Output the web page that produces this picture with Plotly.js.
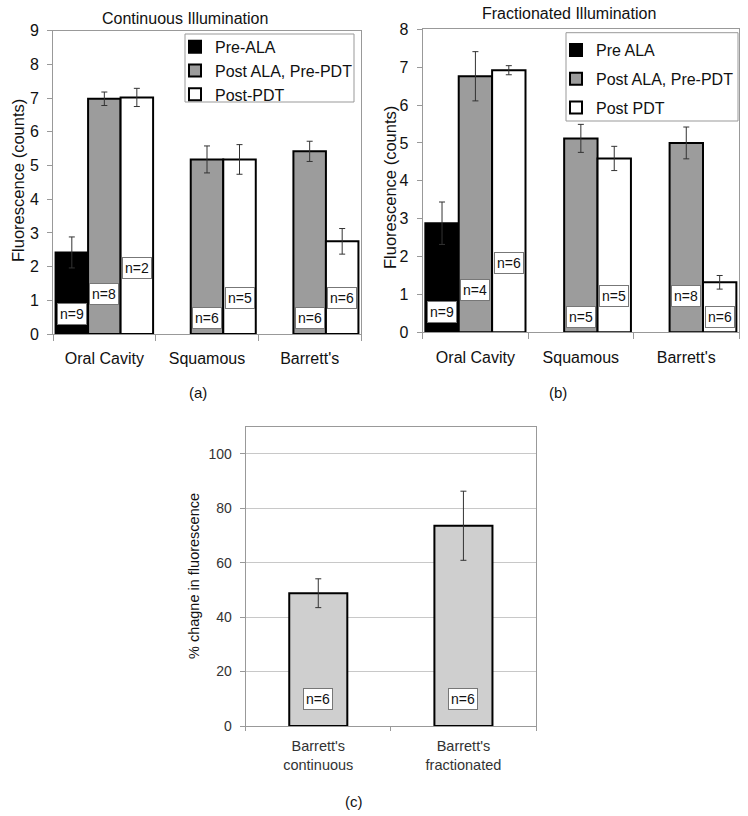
<!DOCTYPE html>
<html>
<head>
<meta charset="utf-8">
<script src="https://cdn.plot.ly/plotly-3.0.1.min.js"></script>
<style>html,body{margin:0;padding:0;background:#fff;}#chart{width:748px;height:816px;}</style>
</head>
<body>
<div id="chart"></div>
<script>
// ---------- DATA ----------
const categories = ["Oral Cavity", "Squamous", "Barrett's"];

// Panel (a) Continuous Illumination
const seriesNamesA = ["Pre-ALA", "Post ALA, Pre-PDT", "Post-PDT"];
const preAlaA      = [2.42, null, null];
const preAlaErrA   = [0.46, null, null];
const postAlaA     = [6.98, 5.18, 5.42];
const postAlaErrA  = [0.20, 0.40, 0.30];
const postPdtA     = [7.02, 5.18, 2.75];
const postPdtErrA  = [0.27, 0.44, 0.38];
const nPreAlaA     = [9, null, null];
const nPostAlaA    = [8, 6, 6];
const nPostPdtA    = [2, 5, 6];

// Panel (b) Fractionated Illumination
const seriesNamesB = ["Pre ALA", "Post ALA, Pre-PDT", "Post PDT"];
const preAlaB      = [2.88, null, null];
const preAlaErrB   = [0.56, null, null];
const postAlaB     = [6.76, 5.12, 5.00];
const postAlaErrB  = [0.65, 0.37, 0.42];
const postPdtB     = [6.92, 4.59, 1.32];
const postPdtErrB  = [0.12, 0.32, 0.18];
const nPreAlaB     = [9, null, null];
const nPostAlaB    = [4, 5, 8];
const nPostPdtB    = [6, 5, 6];

// Panel (c) % change
const changeCategories = ["Barrett's<br>continuous", "Barrett's<br>fractionated"];
const pctChange    = [48.8, 73.6];
const pctChangeErr = [5.3, 12.7];
const nChange      = [6, 6];

// ---------- LAYOUT CONSTANTS (positions/styles) ----------
const FONT = "Liberation Sans, Arial, Helvetica, sans-serif";
const BARGAP = 0.05;
const fills = ["#000000", "#9c9c9c", "#ffffff"];
const labelYA = [[0.60, null, null], [1.20, 0.47, 0.47], [1.97, 1.07, 1.07]];
const labelYB = [[0.54, null, null], [1.12, 0.41, 0.96], [1.84, 0.96, 0.41]];
const labelYC = 10;
const W = 748, H = 816;
const px = v => v / W, py = v => 1 - v / H;

function barTrace(name, y, err, k, xa, ya, legend) {
  return {
    type: "bar", name: name, x: categories, y: y,
    xaxis: xa, yaxis: ya, legend: legend, legendgroup: legend + "_g" + k,
    marker: {color: fills[k], line: {color: "#000", width: 2}},
    error_y: {type: "data", array: err, visible: true, color: "#333", thickness: 1, width: 3},
    hoverinfo: "none"
  };
}

const traces = [
  barTrace(seriesNamesA[0], preAlaA, preAlaErrA, 0, "x", "y", "legend"),
  barTrace(seriesNamesA[1], postAlaA, postAlaErrA, 1, "x", "y", "legend"),
  barTrace(seriesNamesA[2], postPdtA, postPdtErrA, 2, "x", "y", "legend"),
  barTrace(seriesNamesB[0], preAlaB, preAlaErrB, 0, "x2", "y2", "legend2"),
  barTrace(seriesNamesB[1], postAlaB, postAlaErrB, 1, "x2", "y2", "legend2"),
  barTrace(seriesNamesB[2], postPdtB, postPdtErrB, 2, "x2", "y2", "legend2"),
  {
    type: "bar", x: changeCategories, y: pctChange, xaxis: "x3", yaxis: "y3",
    width: 0.4, showlegend: false,
    marker: {color: "#cfcfcf", line: {color: "#000", width: 2}},
    error_y: {type: "data", array: pctChangeErr, visible: true, color: "#333", thickness: 1, width: 3},
    hoverinfo: "none"
  }
];

// n= labels
const annotations = [];
const w = (1 - BARGAP) / 3;
function addN(nArrs, labelY, xref, yref) {
  nArrs.forEach((arr, k) => {
    arr.forEach((n, i) => {
      if (n === null) return;
      annotations.push({
        x: i + (k - 1) * w, y: labelY[k][i], xref: xref, yref: yref,
        text: "n=" + n, showarrow: false,
        font: {family: FONT, size: 14, color: "#111"},
        bgcolor: "#fff", bordercolor: "#777", borderwidth: 1, borderpad: 2
      });
    });
  });
}
addN([nPreAlaA, nPostAlaA, nPostPdtA], labelYA, "x", "y");
addN([nPreAlaB, nPostAlaB, nPostPdtB], labelYB, "x2", "y2");
nChange.forEach((n, i) => {
  annotations.push({
    x: i, y: labelYC, xref: "x3", yref: "y3", text: "n=" + n, showarrow: false,
    font: {family: FONT, size: 14, color: "#111"},
    bgcolor: "#fff", bordercolor: "#777", borderwidth: 1, borderpad: 2
  });
});

function paperText(text, x, y, size, angle) {
  annotations.push({
    text: text, xref: "paper", yref: "paper", x: px(x), y: py(y),
    xanchor: "center", yanchor: "middle", showarrow: false, textangle: angle || 0,
    font: {family: FONT, size: size, color: "#111"}
  });
}
paperText("Continuous Illumination", 185, 18.5, 16);
paperText("Fractionated Illumination", 568.5, 13.5, 16);
paperText("Fluorescence (counts)", 17.5, 180.5, 16.5, -90);
paperText("Fluorescence (counts)", 390, 188, 16.5, -90);
paperText("% chagne in fluorescence", 194, 576, 14.5, -90);
paperText("(a)", 198, 392.5, 15);
paperText("(b)", 558, 392.5, 15);
paperText("(c)", 354, 801.5, 15);

// legend frames
function frame(x0, y0, x1, y1) {
  return {type: "rect", xref: "paper", yref: "paper", x0: px(x0), x1: px(x1), y0: py(y1), y1: py(y0),
          fillcolor: "#fff", line: {color: "#999", width: 1}, layer: "above"};
}
const shapes = [frame(185, 34, 354, 102), frame(566, 32.7, 738, 121)];

const AXC = "#999";
function catAxis(domain, anchor, size, standoff) {
  return {
    domain: domain, anchor: anchor, type: "category", tickson: "boundaries",
    ticks: "outside", ticklen: 6, tickcolor: AXC, showline: true, linecolor: AXC,
    mirror: true, showgrid: false, zeroline: false, fixedrange: true,
    tickfont: {family: FONT, size: size, color: "#111"}, ticklabelstandoff: standoff
  };
}
function valAxis(domain, anchor, range, dtick, size, grid) {
  return {
    domain: domain, anchor: anchor, range: range, dtick: dtick, tick0: 0,
    ticks: "outside", ticklen: 5, tickcolor: AXC, showline: true, linecolor: AXC,
    mirror: true, showgrid: !!grid, gridcolor: "#c8c8c8", zeroline: false, fixedrange: true,
    tickfont: {family: FONT, size: size, color: "#111"}, ticklabelstandoff: 5
  };
}

const y3 = valAxis([py(726), py(426.7)], "x3", [0, 110], 20, 14, true);
y3.tickvals = [0, 20, 40, 60, 80, 100];
y3.tickfont.color = "#333";

const layout = {
  width: W, height: H,
  margin: {l: 0, r: 0, t: 0, b: 0},
  paper_bgcolor: "#fff", plot_bgcolor: "#fff",
  barmode: "group", bargap: BARGAP, bargroupgap: 0,
  font: {family: FONT, color: "#111"},
  xaxis: catAxis([px(53), px(361)], "y", 16, 10),
  yaxis: valAxis([py(334), py(30.7)], "x", [0, 9], 1, 16),
  xaxis2: catAxis([px(422.7), px(739)], "y2", 16, 10),
  yaxis2: valAxis([py(332.3), py(29.3)], "x2", [0, 8], 1, 16),
  xaxis3: Object.assign(catAxis([px(245.7), px(536)], "y3", 14.5, 7), {ticklen: 4}),
  yaxis3: y3,
  legend: {
    x: px(175), y: py(29.8), xanchor: "left", yanchor: "top",
    bgcolor: "rgba(0,0,0,0)", borderwidth: 0, tracegroupgap: 0,
    traceorder: "normal", font: {family: FONT, size: 16, color: "#111"}
  },
  legend2: {
    x: px(556), y: py(33), xanchor: "left", yanchor: "top",
    bgcolor: "rgba(0,0,0,0)", borderwidth: 0, tracegroupgap: 5,
    traceorder: "grouped", font: {family: FONT, size: 16, color: "#111"}
  },
  shapes: shapes,
  annotations: annotations
};
layout.xaxis3.tickfont.color = "#333";

Plotly.newPlot("chart", traces, layout, {staticPlot: true, displayModeBar: false});
</script>
</body>
</html>
